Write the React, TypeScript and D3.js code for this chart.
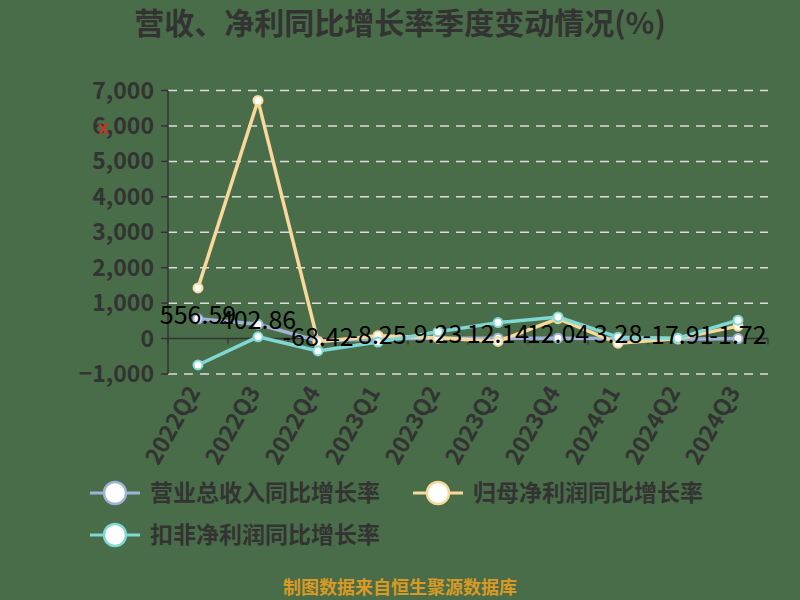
import React from 'react';
import * as d3 from 'd3';

const categories = ['2022Q2', '2022Q3', '2022Q4', '2023Q1', '2023Q2', '2023Q3', '2023Q4', '2024Q1', '2024Q2', '2024Q3'];
const revenueGrowth = [556.59, 402.86, -68.42, -8.25, 9.23, 12.14, 12.04, 3.28, -17.91, -1.72];
const netProfitGrowth = [1430, 6720, -90, 80, 20, -80, 560, -130, 0, 350];
const deductedProfitGrowth = [-745, 50, -350, -100, 190, 450, 610, 40, 10, 520];
const yTicks = [-1000, 0, 1000, 2000, 3000, 4000, 5000, 6000, 7000];

const seriesNames = ['营业总收入同比增长率', '归母净利润同比增长率', '扣非净利润同比增长率'];
const colors = ['#9fb3d9', '#f8d99b', '#80d8d4'];

const W = 800, H = 600;
const BG = '#496d48';
const FONT = '"Noto Sans CJK SC", "Noto Sans", sans-serif';

export default function App() {
  const x = d3.scaleBand<string>().domain(categories).range([168, 768]);
  const y = d3.scaleLinear().domain([-1000, 7000]).range([374, 90.5]);
  const cx = (c: string) => (x(c) as number) + x.bandwidth() / 2;
  const line = d3.line<number>().x((_, i) => cx(categories[i])).y(d => y(d));
  const fmt = d3.format(',');
  const series = [revenueGrowth, netProfitGrowth, deductedProfitGrowth];
  const drawOrder = [0, 1, 2];

  return (
    <svg width={W} height={H} style={{ position: 'absolute', left: 0, top: 0, fontFamily: FONT }}>
      <rect x={0} y={0} width={W} height={H} fill={BG} />
      <text x={400} y={34} textAnchor="middle" fontSize={30} fontWeight="bold" fill="#333">营收、净利同比增长率季度变动情况(%)</text>

      {/* grid */}
      {yTicks.filter(t => t !== 0).map(t => (
        <line key={t} x1={168} x2={768} y1={y(t)} y2={y(t)} stroke="#dcdcdc" strokeWidth={1.5} strokeDasharray="9,7" />
      ))}
      {/* y axis */}
      <line x1={168} x2={168} y1={y(7000)} y2={y(-1000)} stroke="#333" strokeWidth={1.5} />
      {yTicks.map(t => (
        <g key={t}>
          <line x1={161} x2={168} y1={y(t)} y2={y(t)} stroke="#333" strokeWidth={1.5} />
          <text x={154} y={y(t)} dy="0.35em" textAnchor="end" fontSize={23} fontWeight="bold" fill="#333">{fmt(t)}</text>
        </g>
      ))}
      {/* x axis at zero */}
      <line x1={168} x2={768} y1={y(0)} y2={y(0)} stroke="#333" strokeWidth={1.5} />
      {categories.map(c => (
        <line key={'t' + c} x1={x(c) as number} x2={x(c) as number} y1={y(0)} y2={y(0) + 6} stroke="#333" strokeWidth={1.2} />
      ))}
      <line x1={768} x2={768} y1={y(0)} y2={y(0) + 6} stroke="#333" strokeWidth={1.2} />
      {categories.map(c => (
        <text key={'l' + c} transform={`translate(${cx(c) - 4},${388}) rotate(-60)`} textAnchor="end" dy="0.35em" fontSize={23} fontWeight="bold" fill="#333">{c}</text>
      ))}

      {/* lines */}
      {drawOrder.map(si => (
        <path key={'p' + si} d={line(series[si]) as string} fill="none" stroke={colors[si]} strokeWidth={3.5} strokeLinejoin="round" />
      ))}
      {drawOrder.map(si => (
        <g key={'c' + si}>
          {series[si].map((v, i) => (
            <circle key={i} cx={cx(categories[i])} cy={y(v)} r={4.5} fill="#fff" stroke={colors[si]} strokeWidth={2} />
          ))}
        </g>
      ))}
      {/* data labels for revenue */}
      {revenueGrowth.map((v, i) => (
        <text key={'d' + i} x={cx(categories[i])} y={y(v) + 5} textAnchor="middle" fontSize={25} fill="#000">{v}</text>
      ))}

      {/* small red mark */}
      <path d="M99,124 L108,134 M107,123 L100,134" stroke="#c0392b" strokeWidth={2.5} />

      {/* legend */}
      {[0, 1, 2].map(si => {
        const lx = si === 1 ? 413 : 90;
        const ly = si === 2 ? 535 : 493;
        return (
          <g key={'lg' + si}>
            <line x1={lx} x2={lx + 50} y1={ly} y2={ly} stroke={colors[si]} strokeWidth={3} />
            <circle cx={lx + 25} cy={ly} r={11} fill="#fff" stroke={colors[si]} strokeWidth={2.5} />
            <text x={lx + 60} y={ly} dy="0.35em" fontSize={23} fontWeight="bold" fill="#333">{seriesNames[si]}</text>
          </g>
        );
      })}

      <text x={400} y={594} textAnchor="middle" fontSize={18} fontWeight="bold" fill="#d89a24">制图数据来自恒生聚源数据库</text>
    </svg>
  );
}
